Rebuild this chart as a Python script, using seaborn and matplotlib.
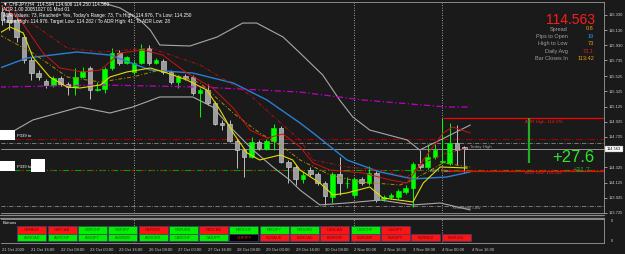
import numpy as np
import pandas as pd
import matplotlib
matplotlib.use("Agg")
import matplotlib.pyplot as plt
import seaborn as sns
from matplotlib.patches import Rectangle

# ---------------- data ----------------
bar_open = [116.369, 116.343, 116.264, 116.040, 115.738, 115.566, 115.461, 115.409, 115.501, 115.422,
            115.382, 115.514, 115.632, 115.343, 115.356, 115.632, 115.830, 115.698, 115.580, 115.698,
            115.895, 115.698, 115.724, 115.580, 115.448, 115.527, 115.514, 115.303, 115.343, 115.172,
            114.909, 114.895, 114.672, 114.553, 114.461, 114.659, 114.566, 114.672, 114.843, 114.395,
            114.330, 114.172, 114.290, 114.238, 114.119, 113.935, 114.238, 114.113, 113.961, 114.172,
            114.119, 114.251, 113.909, 113.935, 113.935, 114.001, 114.053, 114.369, 114.330, 114.461,
            114.395, 114.382, 114.645, 114.594]
bar_high = [116.461, 116.395, 116.303, 116.066, 115.777, 115.606, 115.488, 115.527, 115.527, 115.448,
            115.632, 115.645, 115.659, 115.448, 115.645, 115.895, 115.869, 115.790, 115.724, 115.948,
            115.935, 115.764, 115.751, 115.606, 115.540, 115.553, 115.540, 115.369, 115.422, 115.198,
            114.948, 114.948, 114.698, 114.580, 114.724, 114.685, 114.698, 114.895, 114.869, 114.422,
            114.356, 114.264, 114.330, 114.264, 114.145, 114.264, 114.461, 114.198, 114.198, 114.198,
            114.343, 114.277, 113.961, 113.988, 114.040, 114.093, 114.395, 114.553, 114.632, 114.632,
            114.974, 114.909, 114.882, 114.606]
bar_low = [116.198, 116.132, 115.974, 115.698, 115.474, 115.474, 115.369, 115.382, 115.395, 115.277,
           115.277, 115.501, 115.224, 115.330, 115.303, 115.606, 115.672, 115.685, 115.553, 115.685,
           115.672, 115.685, 115.553, 115.422, 115.369, 115.474, 115.277, 114.987, 115.145, 114.882,
           114.816, 114.659, 114.316, 114.198, 114.448, 114.553, 114.553, 114.553, 114.382, 114.119,
           114.093, 114.119, 114.211, 114.093, 113.830, 113.856, 113.961, 114.053, 113.935, 114.093,
           114.093, 113.869, 113.882, 113.909, 113.909, 113.974, 113.803, 114.303, 114.303, 114.435,
           114.382, 114.356, 114.356, 114.250]
bar_close = [116.264, 116.238, 116.040, 115.738, 115.566, 115.514, 115.409, 115.501, 115.422, 115.382,
             115.514, 115.593, 115.343, 115.356, 115.619, 115.830, 115.698, 115.777, 115.698, 115.882,
             115.698, 115.738, 115.580, 115.448, 115.514, 115.501, 115.303, 115.343, 115.172, 114.895,
             114.882, 114.672, 114.553, 114.461, 114.659, 114.580, 114.672, 114.843, 114.395, 114.330,
             114.172, 114.224, 114.238, 114.119, 113.948, 114.238, 114.119, 114.119, 114.172, 114.119,
             114.251, 113.895, 113.935, 113.961, 114.014, 114.053, 114.369, 114.330, 114.461, 114.553,
             114.409, 114.645, 114.553, 114.563]

date_labels = ["21 Oct 2020", "21 Oct 16:00", "22 Oct 08:00", "23 Oct 00:00", "23 Oct 16:00",
               "26 Oct 08:00", "27 Oct 00:00", "27 Oct 16:00", "28 Oct 08:00", "29 Oct 00:00",
               "29 Oct 16:00", "30 Oct 08:00", "2 Nov 00:00", "2 Nov 16:00", "3 Nov 08:00",
               "4 Nov 00:00", "4 Nov 16:00"]
price_ticks = [116.330, 116.130, 115.930, 115.735, 115.525, 115.325, 115.125, 114.925, 114.725,
               114.325, 114.125, 113.925, 113.725]

# indicator lines (bar index, price)
red_fast_x = [-0.3, 2.5, 5.6, 7.9, 11.0, 13.4, 16.1, 19.2, 21.9, 25.2, 28.7, 31.5, 33.8, 36.1, 38.3,
              40.6, 42.4, 44.7, 49.2, 52.9, 55.2, 57.4, 60.1, 61.4, 63.8]
red_fast_y = [116.461, 116.264, 115.830, 115.632, 115.580, 115.606, 115.830, 115.869, 115.803, 115.566,
              115.369, 115.106, 114.816, 114.711, 114.764, 114.593, 114.382, 114.290, 114.251, 114.159,
              114.119, 114.422, 114.777, 114.856, 114.777]
red_slow_x = [-0.3, 3.4, 8.9, 13.4, 20.2, 27.0, 33.8, 37.2, 40.6, 42.4, 47.0, 51.5, 55.2, 57.4, 60.6, 63.8]
red_slow_y = [116.527, 116.264, 115.895, 115.843, 115.895, 115.672, 115.277, 114.974, 114.685, 114.422,
              114.330, 114.290, 114.198, 114.382, 114.514, 114.580]
olive_x = [-0.3, 4.2, 8.9, 13.4, 17.8, 21.5, 27.0, 31.5, 35.1, 38.3, 40.6, 44.7, 48.8, 54.2, 56.0, 60.1, 63.8]
olive_y = [116.066, 115.830, 115.514, 115.448, 115.514, 115.606, 115.435, 115.040, 114.777, 114.593,
           114.422, 114.224, 114.132, 114.093, 114.159, 114.382, 114.330]
yellow_x = [-0.3, 1.1, 2.9, 4.2, 6.5, 8.9, 10.6, 13.4, 14.7, 17.0, 20.2, 22.5, 25.2, 27.9, 29.7, 31.5,
            33.4, 35.1, 37.9, 39.6, 40.6, 43.3, 45.1, 47.0, 50.1, 51.9, 56.0, 57.4, 59.7, 63.4]
yellow_y = [116.093, 116.172, 116.093, 115.777, 115.514, 115.382, 115.369, 115.409, 115.514, 115.580,
            115.632, 115.566, 115.474, 115.343, 115.080, 114.777, 114.514, 114.422, 114.488, 114.422,
            114.290, 114.119, 113.961, 113.988, 114.066, 113.922, 113.869, 114.119, 114.330, 114.316]
blue_x = [-0.3, 3.4, 10.2, 14.7, 20.2, 26.0, 31.5, 36.1, 40.6, 42.4, 47.0, 51.5, 56.0, 60.6, 63.8]
blue_y = [115.632, 115.764, 115.843, 115.803, 115.606, 115.566, 115.435, 115.211, 114.909, 114.777,
          114.422, 114.264, 114.172, 114.198, 114.264]
magenta_x = [-0.3, 13.4, 27.0, 40.6, 49.2, 60.6, 63.8]
magenta_y = [115.382, 115.409, 115.382, 115.316, 115.211, 115.119, 115.119]
bb_up_x = [13.4, 16.1, 18.8, 20.2, 21.5, 25.6, 29.3, 32.8, 34.7, 38.3, 40.6, 43.7, 46.0, 47.8, 50.1, 55.2,
           56.9, 59.7, 63.8]
bb_up_y = [116.500, 116.422, 116.264, 116.132, 115.935, 115.922, 116.040, 116.224, 116.224, 116.040, 115.830,
           115.540, 115.211, 114.987, 114.816, 114.685, 114.553, 114.685, 114.882]
bb_lo_x = [-0.3, 1.1, 4.2, 10.6, 14.7, 17.8, 21.5, 26.0, 28.7, 31.5, 34.2, 36.9, 39.2, 40.6, 43.3,
           47.0, 51.5, 56.0, 59.7, 63.8]
bb_lo_y = [114.685, 114.777, 114.948, 115.119, 115.040, 115.119, 115.251, 115.251, 115.119, 114.816,
           114.553, 114.330, 114.159, 114.027, 113.830, 113.856, 113.895, 113.830, 113.856, 113.764]

current_price = 114.563
adr_high = 114.976
adr_low = 114.282
level_red = 114.698
level_grey = 114.645
level_green = 114.290
level_low = 113.817

info_labels = ["Spread", "Pips to Open", "High to Low", "Daily Avg", "Bar Closes In"]
info_values = ["0.8", "19", "73", "73.1", "113:42"]
info_colors = ["#e8a317", "#1e9fff", "#e8a317", "#e02020", "#f0a000"]

row1_names = ["GBPAUD", "GBPCAD", "GBPCHF", "GBPJPY", "GBPNZD", "GBPUSD", "NZDCAD", "NZDCHF",
              "NZDJPY", "NZDUSD", "USDCAD", "USDCHF", "USDJPY"]
row1_state = ["r", "r", "g", "g", "r", "g", "r", "g", "g", "g", "r", "g", "r"]
row2_names = ["AUDCAD", "AUDCHF", "AUDJPY", "AUDNZD", "AUDUSD", "CADCHF", "CADJPY", "CHFJPY",
              "EURAUD", "EURCAD", "EURCHF", "EURGBP", "EURJPY", "EURNZD", "EURUSD"]
row2_state = ["g", "g", "g", "g", "g", "g", "g", "k", "r", "r", "r", "r", "r", "r", "r"]

# ---------------- style ----------------
BG = "#1a1a1a"
FG = "#cccccc"
sns.set_theme(style="dark", rc={"axes.facecolor": BG, "figure.facecolor": BG})
plt.rcParams["font.family"] = ["Liberation Sans", "DejaVu Sans"]

W, H = 625, 254
fig = plt.figure(figsize=(W / 100, H / 100), dpi=100)
fig.patch.set_facecolor(BG)


def fbox(l, t, r, b):
    return [l / W, 1 - b / H, (r - l) / W, (b - t) / H]


ax = fig.add_axes(fbox(1, 2, 604, 213))
axb = fig.add_axes(fbox(1, 219, 604, 243), sharex=ax)
for a in (ax, axb):
    a.set_facecolor(BG)
    a.grid(False)
    for s in a.spines.values():
        s.set_color("#9a9a9a")
        s.set_linewidth(0.6)
    a.spines["left"].set_visible(False)

ax.set_xlim(-0.136, 82.02)
ax.set_ylim(113.724, 116.501)

n = len(bar_open)
df = pd.DataFrame({"bar": np.arange(n), "open": bar_open, "high": bar_high,
                   "low": bar_low, "close": bar_close})
df["bull"] = df["close"] >= df["open"]
df["bottom"] = df[["open", "close"]].min(axis=1)
df["height"] = (df["close"] - df["open"]).abs().clip(lower=0.006)

# vertical period separators
for b in (18, 48, 60):
    ax.axvline(b, color="#c8c8c8", lw=0.6, ls=(0, (1, 2)), zorder=1)
    axb.axvline(b, color="#c8c8c8", lw=0.6, ls=(0, (1, 2)), zorder=1)

# horizontal levels
ax.axhline(level_red, color="#a00000", lw=0.8, ls=(0, (6, 2, 1, 2)), zorder=1)
ax.axhline(level_grey, color="#a0a0a0", lw=0.5, ls=(0, (6, 2, 1, 2)), zorder=1)
ax.axhline(current_price, color="#a8a8a8", lw=0.6, zorder=1)
ax.axhline(level_green, color="#00a000", lw=0.8, ls=(0, (6, 2, 1, 2)), zorder=1)
ax.axhline(level_green, color="#d00000", lw=0.8, ls=(0, (2, 7)), zorder=1)
ax.axhline(level_low, color="#a0a0a0", lw=0.5, ls=(0, (6, 2, 1, 2)), zorder=1)

# candles
wick_cols = np.where(df["bull"], "#00ff00", "#c0c0c0")
ax.vlines(df["bar"], df["low"], df["high"], colors=wick_cols, lw=0.7, zorder=3)
ax.bar(df["bar"], df["height"], bottom=df["bottom"], width=0.62,
       color=np.where(df["bull"], "#00ff00", "#9c9c9c"),
       edgecolor=np.where(df["bull"], "#00ff00", "#d8d8d8"), linewidth=0.4, zorder=4)

# indicator lines
def line(xs, ys, color, lw=0.8, ls="-", z=5):
    sns.lineplot(x=xs, y=ys, ax=ax, color=color, lw=lw, linestyle=ls, sort=False,
                 estimator=None, zorder=z)

line(bb_up_x, bb_up_y, "#a8a8a8", 0.8)
line(bb_lo_x, bb_lo_y, "#a8a8a8", 0.8)
line(blue_x, blue_y, "#2a7fd4", 1.0)
line(magenta_x, magenta_y, "#c000c0", 0.9, (0, (5, 2, 1, 2)))
line(red_slow_x, red_slow_y, "#b01010", 0.7, (0, (4, 2, 1, 2)))
line(olive_x, olive_y, "#b08800", 0.7, (0, (4, 2, 1, 2)))
line(red_fast_x, red_fast_y, "#d01010", 0.7)
line(yellow_x, yellow_y, "#e0e000", 0.8)

# ADR lines
x_adr = (443 - 2) / 7.34
ax.hlines([adr_high, adr_low], x_adr, 82.02, colors="#ff0000", lw=0.9, zorder=6)
ax.vlines((529 - 2) / 7.34, 114.382, adr_high, colors="#20b020", lw=1.6, zorder=6)

# axis ticks
ax.yaxis.tick_right()
ax.set_yticks(price_ticks)
ax.set_yticklabels([f"{v:.3f}" for v in price_ticks])
ax.tick_params(axis="y", colors=FG, labelsize=3.0, length=2, width=0.5, pad=1.2, right=True, left=False)
ax.tick_params(axis="x", bottom=False, labelbottom=False)
axb.set_ylim(0, 1)
axb.set_yticks([])
axb.set_xticks(list(range(0, 65, 4)))
axb.set_xticklabels(date_labels)
axb.tick_params(axis="x", colors=FG, labelsize=3.0, length=2, width=0.5, pad=1.5)
for lab in axb.get_xticklabels():
    lab.set_horizontalalignment("left")

# ---------------- overlay (pixel coordinates) ----------------
ov = fig.add_axes([0, 0, 1, 1], zorder=20)
ov.set_xlim(0, W)
ov.set_ylim(H, 0)
ov.axis("off")
ov.patch.set_alpha(0)

# window separator
ov.plot([0, 604], [214.5, 214.5], color="#8a8a8a", lw=0.9)
ov.plot([0, 604], [217.8, 217.8], color="#8a8a8a", lw=0.9)

# current price box
ov.add_patch(Rectangle((604.5, 146.3), 18, 6, facecolor="white", edgecolor="#808080", lw=0.3))
ov.text(613.5, 149.4, "114.563", fontsize=2.8, color="black", ha="center", va="center")
ov.text(611, 221.5, "0", fontsize=2.8, color=FG, ha="left", va="center")
ov.text(611, 241, "0", fontsize=2.8, color=FG, ha="left", va="center")

# top-left info
tl = ["\u25BC CHFJPY,H4  114.594 114.606 114.250 114.563",
      "ADR 1.00 20051027 01 Mod 01",
      "ADR Values: 73, Reached= Yes, Today's Range: 73, T's High: 114.976, T's Low: 114.250",
      "Target High: 114.976. Target Low: 114.282 / To ADR High: 41. To ADR Low: 28"]
for i, (s, yy) in enumerate(zip(tl, [4, 9.5, 15, 21])):
    ov.text(3, yy, s, fontsize=3.4, color="white", ha="left", va="center")

# top-right info panel
ov.text(595, 20, "114.563", fontsize=10, color="#ff1a1a", ha="right", va="center")
for i, (lab, val, col) in enumerate(zip(info_labels, info_values, info_colors)):
    yy = 29 + i * 7.4
    ov.text(568, yy, lab, fontsize=4.0, color="#a0a0a0", ha="right", va="center")
    ov.text(594, yy, val, fontsize=4.0, color=col, ha="right", va="center")

# chart texts
ov.text(525, 121.5, "ADR High: 114.976", fontsize=3.2, color="#e02020", ha="left", va="center")
ov.text(525, 173.5, "ADR Low: 114.282", fontsize=3.2, color="#e02020", ha="left", va="center")
ov.text(594, 157, "+27.6", fontsize=12, color="#2ee62e", ha="right", va="center")
ov.text(590, 170.5, "+31.7", fontsize=5, color="#30a030", ha="right", va="center")
ov.text(470, 147, "Today High", fontsize=3.2, color="#a0a0a0", ha="left", va="center")
ov.text(430, 170.5, "ADR Start", fontsize=3.2, color="#a0a0a0", ha="left", va="center")
ov.text(452, 208.5, "Yesterday Low", fontsize=3.2, color="#a0a0a0", ha="left", va="center")

# left label boxes
ov.add_patch(Rectangle((0, 130), 15, 10, facecolor="white", edgecolor="none"))
ov.text(17, 136, "P339 to", fontsize=3, color="white", ha="left", va="center")
ov.add_patch(Rectangle((0, 161), 15, 10, facecolor="white", edgecolor="none"))
ov.add_patch(Rectangle((31, 158.5), 14, 13, facecolor="white", edgecolor="none"))
ov.text(17, 166.5, "P339 lo", fontsize=3, color="white", ha="left", va="center")

# buttons
ov.text(3, 222.5, "Buttons", fontsize=3, color="white", ha="left", va="center")
style = {"r": ("#ff1414", "#7a0000"), "g": ("#00f000", "#006a00"), "k": ("#000000", "#ff2020")}
for row_names, row_state, top in ((row1_names, row1_state, 226.3), (row2_names, row2_state, 234.0)):
    for k, (nm, st) in enumerate(zip(row_names, row_state)):
        x0 = 17.3 + 30.3 * k
        fc, tc = style[st]
        ov.add_patch(Rectangle((x0, top), 29, 7.2, facecolor=fc, edgecolor="#404070", lw=0.5))
        ov.text(x0 + 14.5, top + 3.7, nm, fontsize=2.8, color=tc, ha="center", va="center")

fig.savefig("out.png", dpi=100, facecolor=BG)
